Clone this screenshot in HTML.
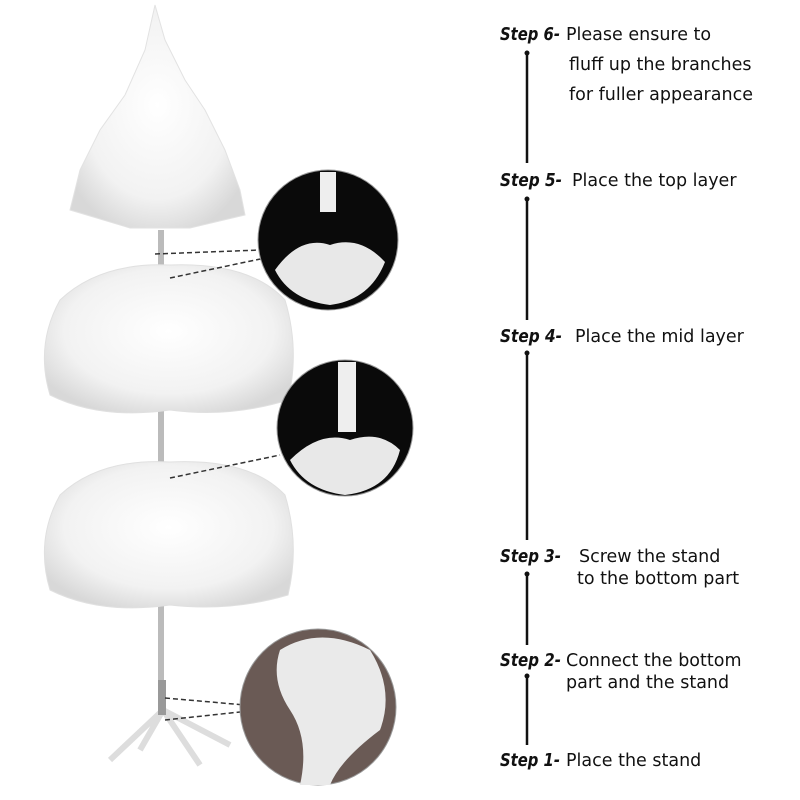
<!DOCTYPE html>
<html><head><style>
body{margin:0;background:#fff;}
svg{display:block}
text{font-family:"DejaVu Sans","Liberation Sans",sans-serif;font-size:17.5px;fill:#111}
.s{font-weight:bold;font-style:italic}
</style></head><body>
<svg width="800" height="800" viewBox="0 0 800 800">
<defs>
<radialGradient id="f" cx="50%" cy="45%" r="60%">
<stop offset="0" stop-color="#fff"/><stop offset="0.7" stop-color="#f2f2f2"/><stop offset="1" stop-color="#d8d8d8"/>
</radialGradient>
</defs>
<rect x="158" y="230" width="6" height="480" fill="#bbb"/>
<path d="M155 5 L165 40 L185 80 L205 110 L225 150 L240 190 L245 215 L190 228 L130 228 L70 210 L80 170 L100 130 L125 95 L145 50 Z" fill="url(#f)" stroke="#e2e2e2"/>
<path d="M60 300 Q100 262 170 265 Q250 262 285 300 Q300 350 288 400 Q230 418 170 410 Q100 420 50 395 Q35 345 60 300 Z" fill="url(#f)" stroke="#e0e0e0"/>
<path d="M60 495 Q100 458 170 462 Q250 458 285 495 Q300 545 288 595 Q230 612 170 605 Q100 615 50 590 Q35 540 60 495 Z" fill="url(#f)" stroke="#e0e0e0"/>
<path d="M163 710 L110 760 M163 710 L200 765 M163 710 L140 750 M163 710 L230 745" stroke="#ddd" stroke-width="6" fill="none"/>
<rect x="158" y="680" width="8" height="35" fill="#999"/>
<g stroke="#333" stroke-width="1.5" stroke-dasharray="5,3">
<line x1="155" y1="254" x2="260" y2="250"/>
<line x1="170" y1="278" x2="265" y2="258"/>
<line x1="170" y1="478" x2="280" y2="455"/>
<line x1="165" y1="698" x2="245" y2="705"/>
<line x1="165" y1="720" x2="240" y2="712"/>
</g>
<circle cx="328" cy="240" r="70" fill="#0a0a0a" stroke="#999"/>
<rect x="320" y="172" width="16" height="40" fill="#eee"/>
<path d="M275 270 Q300 235 330 245 Q360 235 385 262 Q370 300 330 305 Q290 300 275 270Z" fill="#e8e8e8"/>
<circle cx="345" cy="428" r="68" fill="#0a0a0a" stroke="#999"/>
<rect x="338" y="362" width="18" height="70" fill="#eee"/>
<path d="M290 460 Q320 430 350 440 Q380 430 400 450 Q390 490 345 495 Q305 490 290 460Z" fill="#e8e8e8"/>
<circle cx="318" cy="707" r="78" fill="#6a5a55" stroke="#999"/>
<path d="M280 650 Q320 625 370 650 Q395 690 380 730 Q340 760 330 785 L300 785 Q310 740 290 710 Q270 680 280 650Z" fill="#eaeaea"/>
<g class="s">
<text x="500" y="40" class="s" textLength="60" lengthAdjust="spacingAndGlyphs">Step 6-</text>
<text x="500" y="186" class="s" textLength="62" lengthAdjust="spacingAndGlyphs">Step 5-</text>
<text x="500" y="342" class="s" textLength="62" lengthAdjust="spacingAndGlyphs">Step 4-</text>
<text x="500" y="562" class="s" textLength="61" lengthAdjust="spacingAndGlyphs">Step 3-</text>
<text x="500" y="666" class="s" textLength="61" lengthAdjust="spacingAndGlyphs">Step 2-</text>
<text x="500" y="766" class="s" textLength="60" lengthAdjust="spacingAndGlyphs">Step 1-</text>
</g>
<text x="566" y="40">Please ensure to</text>
<text x="569" y="70">fluff up the branches</text>
<text x="569" y="100">for fuller appearance</text>
<text x="572" y="186">Place the top layer</text>
<text x="575" y="342">Place the mid layer</text>
<text x="579" y="562">Screw the stand</text>
<text x="577" y="584">to the bottom part</text>
<text x="566" y="666">Connect the bottom</text>
<text x="566" y="688">part and the stand</text>
<text x="566" y="766">Place the stand</text>
<g stroke="#111" stroke-width="2.5">
<line x1="527" y1="53" x2="527" y2="163"/>
<line x1="527" y1="199" x2="527" y2="320"/>
<line x1="527" y1="353" x2="527" y2="540"/>
<line x1="527" y1="574" x2="527" y2="645"/>
<line x1="527" y1="676" x2="527" y2="745"/>
</g>
<g fill="#111">
<circle cx="527" cy="53" r="2.5"/><circle cx="527" cy="199" r="2.5"/><circle cx="527" cy="353" r="2.5"/><circle cx="527" cy="574" r="2.5"/><circle cx="527" cy="676" r="2.5"/>
</g>
</svg>
</body></html>
